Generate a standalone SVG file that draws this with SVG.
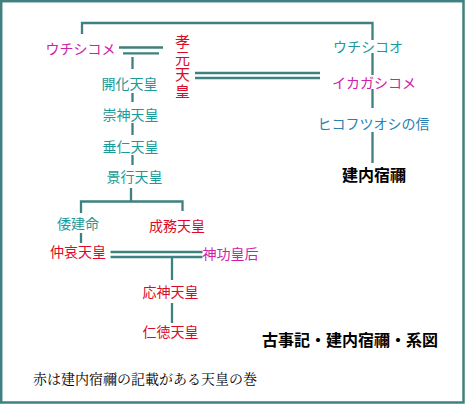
<svg xmlns="http://www.w3.org/2000/svg" width="465" height="404" viewBox="0 0 465 404">
<style>
.t{font-family:"Noto Sans CJK JP","Noto Sans CJK SC",sans-serif;font-size:14px;text-anchor:middle}
.teal{fill:#1a9a9a}
.mag{fill:#d020a8}
.red{fill:#dc0a28}
.blue{fill:#2a80b4}
.blk{fill:#000;font-weight:bold;font-size:16px}
.ln{stroke:#3f8080;stroke-width:2.3;fill:none}
.note{font-family:"Noto Serif CJK JP","Noto Sans CJK JP",serif;font-size:14px;fill:#000}
.vert{writing-mode:vertical-rl;text-anchor:start;font-size:15px;letter-spacing:1.5px}
</style>
<rect x="1.2" y="1.2" width="462.3" height="401.3" fill="#fff" stroke="#3f8080" stroke-width="2.5"/>
<g id="connectors" class="ln">
<path d="M82 34 V23 H372.5 V40 M372.5 53 V75 M372.5 89 V108 M372.5 132 V163"/>
<path d="M119 47.5 H163 M123 53.3 H159"/>
<path d="M195 73 H320 M195 78 H320"/>
<path d="M132.5 57 V69 M132.5 93 V102 M132.5 123 V135 M132.5 155 V165 M131 188 V201.5"/>
<path d="M81 213 V201.5 H182.5 V211"/>
<path d="M81 233 V243"/>
<path d="M110.5 252 H202.5 M110.5 257 H202.5"/>
<path d="M172 258 V280 M172 303 V323"/>
</g>
<g id="uchishikome"><text class="t mag" x="80.5" y="53.5">ウチシコメ</text></g>
<g id="kougen"><text class="t red vert" x="182.5" y="34">孝元天皇</text></g>
<g id="uchishikoo"><text class="t teal" x="368" y="51.5">ウチシコオ</text></g>
<g id="ikagashikome"><text class="t mag" x="374" y="87.5">イカガシコメ</text></g>
<g id="hikofutsuoshi"><text class="t blue" x="373.5" y="128.5">ヒコフツオシの信</text></g>
<g id="takeuchi"><text class="t blk" x="374" y="180.5">建内宿禰</text></g>
<g id="kaika"><text class="t teal" x="129.5" y="88.5">開化天皇</text></g>
<g id="sujin"><text class="t teal" x="130.5" y="120">崇神天皇</text></g>
<g id="suinin"><text class="t teal" x="130.5" y="152">垂仁天皇</text></g>
<g id="keikou"><text class="t teal" x="134.5" y="182">景行天皇</text></g>
<g id="yamatotakeru"><text class="t teal" x="78" y="229">倭建命</text></g>
<g id="seimu"><text class="t red" x="177" y="230.5">成務天皇</text></g>
<g id="chuuai"><text class="t red" x="78" y="256.5">仲哀天皇</text></g>
<g id="jinguu"><text class="t mag" x="230.5" y="258.5">神功皇后</text></g>
<g id="oujin"><text class="t red" x="170.5" y="297">応神天皇</text></g>
<g id="nintoku"><text class="t red" x="170.5" y="337">仁徳天皇</text></g>
<g id="title"><text class="t blk" x="350" y="345.5">古事記・建内宿禰・系図</text></g>
<g id="note"><text class="note" x="33" y="383.5">赤は建内宿禰の記載がある天皇の巻</text></g>
</svg>
